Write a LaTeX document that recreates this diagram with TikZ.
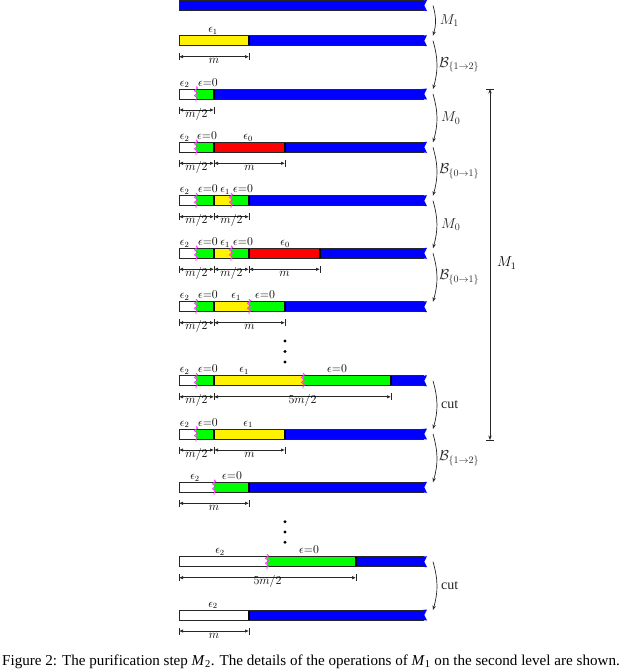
\documentclass[tikz,border=0pt]{standalone}
\usepackage{fontspec}
\setmainfont{Liberation Serif}
\usetikzlibrary{arrows.meta,decorations.pathmorphing}
\definecolor{wigcol}{rgb}{1,0.2,1}
\newcounter{labc}
\tikzset{
 sepline/.style={black, line width=1.4pt},
 barframe/.style={black!85, line width=0.8pt},
 wig/.style={wigcol, line width=0.9pt, decorate, decoration={snake, amplitude=1.5pt, segment length=5pt}},
 dimarr/.style={black!85, line width=0.7pt, {Latex[length=4pt,width=3.4pt]}-{Latex[length=4pt,width=3.4pt]}},
 dimtick/.style={black!85, line width=0.7pt},
 toplab/.style={anchor=base, inner sep=0pt, font=\fontsize{12}{14}\selectfont},
 dimlab/.style={anchor=base, inner sep=0pt, font=\fontsize{12}{14}\selectfont},
 oparr/.style={black!85, line width=0.7pt, -{Stealth[length=4.5pt,width=3.4pt]}, bend left=16},
 oplab/.style={anchor=west, inner sep=0pt, xshift=4pt, font=\fontsize{14}{16}\selectfont},
 dotstyle/.style={circle, fill=black, inner sep=0pt, minimum size=3.2pt},
}
\newcommand\BarSeg[4]{\fill[#1] (#2,{#4-5}) rectangle (#3,{#4+5});}
\newcommand\BarEnd[1]{%
 \fill[blue] (422,{#1-5}) -- (427,{#1-5.5}) -- (424.3,#1) -- (427,{#1+5.5}) -- (422,{#1+5}) -- cycle;}
\newcommand\BarFrame[1]{%
 \draw[barframe] (424,{#1-5}) -- (179,{#1-5}) -- (179,{#1+5}) -- (424,{#1+5});}
\newcommand\BarSep[2]{\draw[sepline] (#1,{#2-5}) -- (#1,{#2+5});}
\newcommand\BarWig[2]{\draw[wig] (#1,{#2-7.5}) -- (#1,{#2+7.5});}
\newcommand\TopLab[3]{\stepcounter{labc}\node[toplab] (tl\arabic{labc}) at (#1,{#2-8}) {#3};}
\newcommand\EZ{$\epsilon{=}0$}
\newcommand\DimL[4]{%
 \stepcounter{labc}%
 \coordinate (da\arabic{labc}) at (#1,{#3+16});
 \coordinate (db\arabic{labc}) at (#2,{#3+16});
 \draw[dimtick] (#1,{#3+12.5}) -- (#1,{#3+19.5});
 \draw[dimtick] (#2,{#3+12.5}) -- (#2,{#3+19.5});
 \draw[dimarr] (da\arabic{labc}) -- (db\arabic{labc});
 \node[dimlab] (dl\arabic{labc}) at ({(#1+#2)/2},{#3+23}) {#4};}
\begin{document}
\begin{tikzpicture}[x=1pt,y=-1pt]
\useasboundingbox (0,0) rectangle (622,672);

% ---------- bar 1
\def\c{5.5}
\BarSeg{blue}{179}{424}{\c}\BarEnd{\c}\BarFrame{\c}
\coordinate (s1) at (433,\c);

% ---------- bar 2
\def\c{40.7}
\BarSeg{yellow}{179}{249}{\c}\BarSeg{blue}{249}{424}{\c}\BarEnd{\c}
\BarSep{249}{\c}\BarFrame{\c}
\TopLab{213}{\c}{$\epsilon_1$}
\DimL{179}{249}{\c}{$m$}
\coordinate (e2) at (433,{\c-5}); \coordinate (s2) at (433,\c);

% ---------- bar 3
\def\c{94}
\BarSeg{white}{179}{196}{\c}\BarSeg{green}{196}{214}{\c}\BarSeg{blue}{214}{424}{\c}\BarEnd{\c}
\BarSep{214}{\c}\BarFrame{\c}\BarWig{196}{\c}
\TopLab{184.5}{\c}{$\epsilon_2$}\TopLab{208}{\c}{\EZ}
\DimL{179}{214}{\c}{$m/2$}
\coordinate (e3) at (433,{\c-5}); \coordinate (s3) at (433,\c);

% ---------- bar 4
\def\c{147.3}
\BarSeg{white}{179}{196}{\c}\BarSeg{green}{196}{214}{\c}\BarSeg{red}{214}{285}{\c}\BarSeg{blue}{285}{424}{\c}\BarEnd{\c}
\BarSep{214}{\c}\BarSep{285}{\c}\BarFrame{\c}\BarWig{196}{\c}
\TopLab{184.5}{\c}{$\epsilon_2$}\TopLab{207}{\c}{\EZ}\TopLab{248}{\c}{$\epsilon_0$}
\DimL{179}{214}{\c}{$m/2$}\DimL{214}{285}{\c}{$m$}
\coordinate (e4) at (433,{\c-5}); \coordinate (s4) at (433,\c);

% ---------- bar 5
\def\c{200.7}
\BarSeg{white}{179}{196}{\c}\BarSeg{green}{196}{214}{\c}\BarSeg{yellow}{214}{231}{\c}\BarSeg{green}{231}{249}{\c}\BarSeg{blue}{249}{424}{\c}\BarEnd{\c}
\BarSep{214}{\c}\BarSep{249}{\c}\BarFrame{\c}\BarWig{196}{\c}\BarWig{231}{\c}
\TopLab{184.5}{\c}{$\epsilon_2$}\TopLab{208}{\c}{\EZ}\TopLab{225}{\c}{$\epsilon_1$}\TopLab{243}{\c}{\EZ}
\DimL{179}{214}{\c}{$m/2$}\DimL{214}{249}{\c}{$m/2$}
\coordinate (e5) at (433,{\c-5}); \coordinate (s5) at (433,\c);

% ---------- bar 6
\def\c{253.3}
\BarSeg{white}{179}{196}{\c}\BarSeg{green}{196}{214}{\c}\BarSeg{yellow}{214}{231}{\c}\BarSeg{green}{231}{249}{\c}\BarSeg{red}{249}{320}{\c}\BarSeg{blue}{320}{424}{\c}\BarEnd{\c}
\BarSep{214}{\c}\BarSep{249}{\c}\BarSep{320}{\c}\BarFrame{\c}\BarWig{196}{\c}\BarWig{231}{\c}
\TopLab{184.5}{\c}{$\epsilon_2$}\TopLab{208}{\c}{\EZ}\TopLab{225}{\c}{$\epsilon_1$}\TopLab{243}{\c}{\EZ}\TopLab{285}{\c}{$\epsilon_0$}
\DimL{179}{214}{\c}{$m/2$}\DimL{214}{249}{\c}{$m/2$}\DimL{249}{320}{\c}{$m$}
\coordinate (e6) at (433,{\c-5}); \coordinate (s6) at (433,\c);

% ---------- bar 7
\def\c{306.7}
\BarSeg{white}{179}{196}{\c}\BarSeg{green}{196}{214}{\c}\BarSeg{yellow}{214}{249}{\c}\BarSeg{green}{249}{285}{\c}\BarSeg{blue}{285}{424}{\c}\BarEnd{\c}
\BarSep{214}{\c}\BarSep{285}{\c}\BarFrame{\c}\BarWig{196}{\c}\BarWig{249}{\c}
\TopLab{184.5}{\c}{$\epsilon_2$}\TopLab{208}{\c}{\EZ}\TopLab{236}{\c}{$\epsilon_1$}\TopLab{265}{\c}{\EZ}
\DimL{179}{214}{\c}{$m/2$}\DimL{214}{285}{\c}{$m$}
\coordinate (e7) at (433,{\c-5});

% dots
\node[dotstyle] (d1) at (285,341) {};
\node[dotstyle] (d2) at (285,351.5) {};
\node[dotstyle] (d3) at (285,362) {};

% ---------- bar 8
\def\c{380.8}
\BarSeg{white}{179}{196}{\c}\BarSeg{green}{196}{214}{\c}\BarSeg{yellow}{214}{303}{\c}\BarSeg{green}{303}{391}{\c}\BarSeg{blue}{391}{424}{\c}\BarEnd{\c}
\BarSep{214}{\c}\BarSep{391}{\c}\BarFrame{\c}\BarWig{196}{\c}\BarWig{303}{\c}
\TopLab{184.5}{\c}{$\epsilon_2$}\TopLab{208}{\c}{\EZ}\TopLab{244}{\c}{$\epsilon_1$}\TopLab{337}{\c}{\EZ}
\DimL{179}{214}{\c}{$m/2$}\DimL{214}{391}{\c}{$5m/2$}
\coordinate (s8) at (433,\c);

% ---------- bar 9
\def\c{434}
\BarSeg{white}{179}{196}{\c}\BarSeg{green}{196}{214}{\c}\BarSeg{yellow}{214}{285}{\c}\BarSeg{blue}{285}{424}{\c}\BarEnd{\c}
\BarSep{214}{\c}\BarSep{285}{\c}\BarFrame{\c}\BarWig{196}{\c}
\TopLab{184.5}{\c}{$\epsilon_2$}\TopLab{208}{\c}{\EZ}\TopLab{248}{\c}{$\epsilon_1$}
\DimL{179}{214}{\c}{$m/2$}\DimL{214}{285}{\c}{$m$}
\coordinate (e9) at (433,{\c-5}); \coordinate (s9) at (433,\c);

% ---------- bar 10
\def\c{487.3}
\BarSeg{white}{179}{214}{\c}\BarSeg{green}{214}{249}{\c}\BarSeg{blue}{249}{424}{\c}\BarEnd{\c}
\BarSep{249}{\c}\BarFrame{\c}\BarWig{214}{\c}
\TopLab{195}{\c}{$\epsilon_2$}\TopLab{232}{\c}{\EZ}
\DimL{179}{249}{\c}{$m$}
\coordinate (e10) at (433,{\c-5});

% dots
\node[dotstyle] (d4) at (285,521.7) {};
\node[dotstyle] (d5) at (285,532) {};
\node[dotstyle] (d6) at (285,542.3) {};

% ---------- bar 11
\def\c{561.7}
\BarSeg{white}{179}{267}{\c}\BarSeg{green}{267}{356}{\c}\BarSeg{blue}{356}{424}{\c}\BarEnd{\c}
\BarSep{356}{\c}\BarFrame{\c}\BarWig{267}{\c}
\TopLab{220}{\c}{$\epsilon_2$}\TopLab{309}{\c}{\EZ}
\DimL{179}{356}{\c}{$5m/2$}
\coordinate (s11) at (433,\c);

% ---------- bar 12
\def\c{615}
\BarSeg{white}{179}{249}{\c}\BarSeg{blue}{249}{424}{\c}\BarEnd{\c}
\BarSep{249}{\c}\BarFrame{\c}
\TopLab{213}{\c}{$\epsilon_2$}
\DimL{179}{249}{\c}{$m$}
\coordinate (e12) at (433,{\c-5});

% ---------- operation arrows
\draw[oparr] (s1) to node[oplab, midway] (o1) {$M_1$} (e2);
\draw[oparr] (s2) to node[oplab, midway, xshift=-2pt] (o2) {$\mathcal{B}_{\{1\to2\}}$} (e3);
\draw[oparr] (s3) to node[oplab, midway] (o3) {$M_0$} (e4);
\draw[oparr] (s4) to node[oplab, midway, xshift=-2pt] (o4) {$\mathcal{B}_{\{0\to1\}}$} (e5);
\draw[oparr] (s5) to node[oplab, midway] (o5) {$M_0$} (e6);
\draw[oparr] (s6) to node[oplab, midway, xshift=-2pt] (o6) {$\mathcal{B}_{\{0\to1\}}$} (e7);
\draw[oparr] (s8) to node[oplab, midway] (o7) {cut} (e9);
\draw[oparr] (s9) to node[oplab, midway, xshift=-2pt] (o8) {$\mathcal{B}_{\{1\to2\}}$} (e10);
\draw[oparr] (s11) to node[oplab, midway] (o9) {cut} (e12);

% ---------- big M1
\coordinate (Mt) at (490,89);
\coordinate (Mb) at (490,440);
\draw[black!85, line width=0.7pt, {Stealth[length=4.5pt,width=3.4pt]}-{Stealth[length=4.5pt,width=3.4pt]}] (Mt) -- (Mb);
\draw[black!85, line width=0.7pt] (486.3,89) -- (493.7,89);
\draw[black!85, line width=0.7pt] (486.3,440) -- (493.7,440);
\node[anchor=west, inner sep=0pt, font=\fontsize{14}{16}\selectfont] (Mlab) at (497,263) {$M_1$};

% ---------- caption
\node[anchor=base, inner sep=0pt, font=\fontsize{15.1}{17}\selectfont] (cap) at (311,665.5)
 {Figure 2: The purification step \textit{M}\textsubscript{2}. The details of the operations of \textit{M}\textsubscript{1} on the second level are shown.};
\end{tikzpicture}
\end{document}
